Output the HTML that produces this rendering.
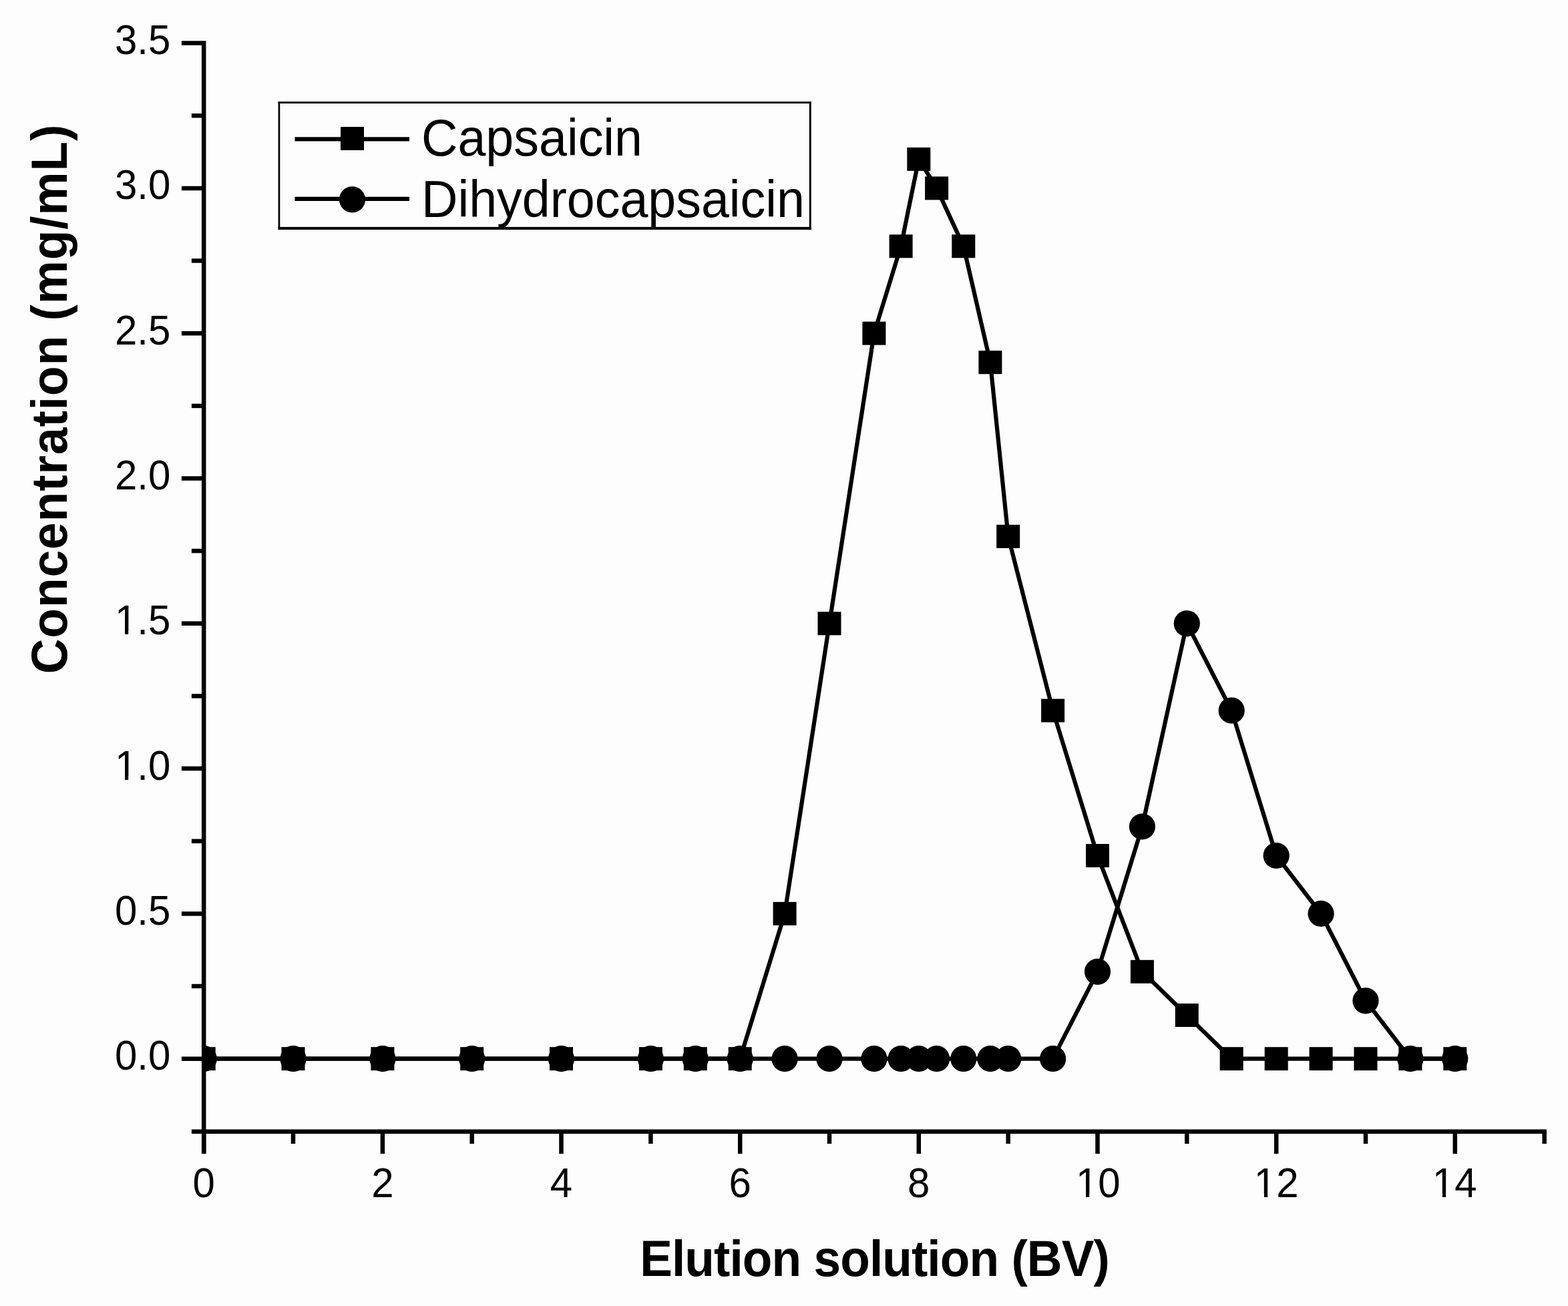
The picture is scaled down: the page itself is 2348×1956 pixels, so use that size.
<!DOCTYPE html>
<html><head><meta charset="utf-8"><title>Elution curve</title>
<style>html,body{margin:0;padding:0;background:#fdfdfd;}svg{display:block;}</style>
</head><body>
<svg width="2348" height="1956" viewBox="0 0 2348 1956">
<rect width="2348" height="1956" fill="#fdfdfd"/>
<defs><clipPath id="pc"><rect x="305" y="0" width="2100" height="1694"/></clipPath></defs>
<g clip-path="url(#pc)">
<polyline points="305.2,1585.7 439.0,1585.7 572.9,1585.7 706.7,1585.7 840.5,1585.7 974.4,1585.7 1041.3,1585.7 1108.2,1585.7 1175.1,1368.4 1242.0,933.8 1308.9,499.2 1349.1,368.8 1375.8,238.4 1402.6,281.9 1442.8,368.8 1482.9,542.7 1509.7,803.4 1576.6,1064.2 1643.5,1281.5 1710.4,1455.3 1777.3,1520.5 1844.2,1585.7 1911.2,1585.7 1978.1,1585.7 2045.0,1585.7 2111.9,1585.7 2178.8,1585.7" fill="none" stroke="#000" stroke-width="6.2" stroke-linejoin="round"/>
<polyline points="305.2,1585.7 439.0,1585.7 572.9,1585.7 706.7,1585.7 840.5,1585.7 974.4,1585.7 1041.3,1585.7 1108.2,1585.7 1175.1,1585.7 1242.0,1585.7 1308.9,1585.7 1349.1,1585.7 1375.8,1585.7 1402.6,1585.7 1442.8,1585.7 1482.9,1585.7 1509.7,1585.7 1576.6,1585.7 1643.5,1455.3 1710.4,1238.0 1777.3,933.8 1844.2,1064.2 1911.2,1281.5 1978.1,1368.4 2045.0,1498.8 2111.9,1585.7 2178.8,1585.7" fill="none" stroke="#000" stroke-width="6.2" stroke-linejoin="round"/>
<rect x="287.7" y="1568.2" width="35" height="35"/>
<rect x="421.5" y="1568.2" width="35" height="35"/>
<rect x="555.4" y="1568.2" width="35" height="35"/>
<rect x="689.2" y="1568.2" width="35" height="35"/>
<rect x="823.0" y="1568.2" width="35" height="35"/>
<rect x="956.9" y="1568.2" width="35" height="35"/>
<rect x="1023.8" y="1568.2" width="35" height="35"/>
<rect x="1090.7" y="1568.2" width="35" height="35"/>
<rect x="1157.6" y="1350.9" width="35" height="35"/>
<rect x="1224.5" y="916.3" width="35" height="35"/>
<rect x="1291.4" y="481.7" width="35" height="35"/>
<rect x="1331.6" y="351.3" width="35" height="35"/>
<rect x="1358.3" y="220.9" width="35" height="35"/>
<rect x="1385.1" y="264.4" width="35" height="35"/>
<rect x="1425.3" y="351.3" width="35" height="35"/>
<rect x="1465.4" y="525.2" width="35" height="35"/>
<rect x="1492.2" y="785.9" width="35" height="35"/>
<rect x="1559.1" y="1046.7" width="35" height="35"/>
<rect x="1626.0" y="1264.0" width="35" height="35"/>
<rect x="1692.9" y="1437.8" width="35" height="35"/>
<rect x="1759.8" y="1503.0" width="35" height="35"/>
<rect x="1826.7" y="1568.2" width="35" height="35"/>
<rect x="1893.7" y="1568.2" width="35" height="35"/>
<rect x="1960.6" y="1568.2" width="35" height="35"/>
<rect x="2027.5" y="1568.2" width="35" height="35"/>
<rect x="2094.4" y="1568.2" width="35" height="35"/>
<rect x="2161.3" y="1568.2" width="35" height="35"/>
<circle cx="305.2" cy="1585.7" r="19.6"/>
<circle cx="439.0" cy="1585.7" r="19.6"/>
<circle cx="572.9" cy="1585.7" r="19.6"/>
<circle cx="706.7" cy="1585.7" r="19.6"/>
<circle cx="840.5" cy="1585.7" r="19.6"/>
<circle cx="974.4" cy="1585.7" r="19.6"/>
<circle cx="1041.3" cy="1585.7" r="19.6"/>
<circle cx="1108.2" cy="1585.7" r="19.6"/>
<circle cx="1175.1" cy="1585.7" r="19.6"/>
<circle cx="1242.0" cy="1585.7" r="19.6"/>
<circle cx="1308.9" cy="1585.7" r="19.6"/>
<circle cx="1349.1" cy="1585.7" r="19.6"/>
<circle cx="1375.8" cy="1585.7" r="19.6"/>
<circle cx="1402.6" cy="1585.7" r="19.6"/>
<circle cx="1442.8" cy="1585.7" r="19.6"/>
<circle cx="1482.9" cy="1585.7" r="19.6"/>
<circle cx="1509.7" cy="1585.7" r="19.6"/>
<circle cx="1576.6" cy="1585.7" r="19.6"/>
<circle cx="1643.5" cy="1455.3" r="19.6"/>
<circle cx="1710.4" cy="1238.0" r="19.6"/>
<circle cx="1777.3" cy="933.8" r="19.6"/>
<circle cx="1844.2" cy="1064.2" r="19.6"/>
<circle cx="1911.2" cy="1281.5" r="19.6"/>
<circle cx="1978.1" cy="1368.4" r="19.6"/>
<circle cx="2045.0" cy="1498.8" r="19.6"/>
<circle cx="2111.9" cy="1585.7" r="19.6"/>
<circle cx="2178.8" cy="1585.7" r="19.6"/>
</g>
<g stroke="#000" stroke-width="6.5" fill="none">
<line x1="305.2" y1="61.3" x2="305.2" y2="1728.0"/>
<line x1="286.9" y1="1694.7" x2="2315.9" y2="1694.7"/>
<line x1="271.9" y1="1585.7" x2="305.2" y2="1585.7"/>
<line x1="286.9" y1="1477.0" x2="305.2" y2="1477.0"/>
<line x1="271.9" y1="1368.4" x2="305.2" y2="1368.4"/>
<line x1="286.9" y1="1259.8" x2="305.2" y2="1259.8"/>
<line x1="271.9" y1="1151.1" x2="305.2" y2="1151.1"/>
<line x1="286.9" y1="1042.5" x2="305.2" y2="1042.5"/>
<line x1="271.9" y1="933.8" x2="305.2" y2="933.8"/>
<line x1="286.9" y1="825.1" x2="305.2" y2="825.1"/>
<line x1="271.9" y1="716.5" x2="305.2" y2="716.5"/>
<line x1="286.9" y1="607.9" x2="305.2" y2="607.9"/>
<line x1="271.9" y1="499.2" x2="305.2" y2="499.2"/>
<line x1="286.9" y1="390.5" x2="305.2" y2="390.5"/>
<line x1="271.9" y1="281.9" x2="305.2" y2="281.9"/>
<line x1="286.9" y1="173.2" x2="305.2" y2="173.2"/>
<line x1="271.9" y1="64.6" x2="305.2" y2="64.6"/>
<line x1="305.2" y1="1694.7" x2="305.2" y2="1728.0"/>
<line x1="439.0" y1="1694.7" x2="439.0" y2="1713.0"/>
<line x1="572.9" y1="1694.7" x2="572.9" y2="1728.0"/>
<line x1="706.7" y1="1694.7" x2="706.7" y2="1713.0"/>
<line x1="840.5" y1="1694.7" x2="840.5" y2="1728.0"/>
<line x1="974.4" y1="1694.7" x2="974.4" y2="1713.0"/>
<line x1="1108.2" y1="1694.7" x2="1108.2" y2="1728.0"/>
<line x1="1242.0" y1="1694.7" x2="1242.0" y2="1713.0"/>
<line x1="1375.8" y1="1694.7" x2="1375.8" y2="1728.0"/>
<line x1="1509.7" y1="1694.7" x2="1509.7" y2="1713.0"/>
<line x1="1643.5" y1="1694.7" x2="1643.5" y2="1728.0"/>
<line x1="1777.3" y1="1694.7" x2="1777.3" y2="1713.0"/>
<line x1="1911.2" y1="1694.7" x2="1911.2" y2="1728.0"/>
<line x1="2045.0" y1="1694.7" x2="2045.0" y2="1713.0"/>
<line x1="2178.8" y1="1694.7" x2="2178.8" y2="1728.0"/>
<line x1="2312.7" y1="1694.7" x2="2312.7" y2="1713.0"/>
</g>
<g font-family="'Liberation Sans', Arial, sans-serif" font-size="60" fill="#000">
<g transform="translate(255.3,1602.2) scale(1,1.055)"><text text-anchor="end">0.0</text></g>
<g transform="translate(255.3,1384.9) scale(1,1.055)"><text text-anchor="end">0.5</text></g>
<g transform="translate(255.3,1167.6) scale(1,1.055)"><text text-anchor="end">1.0</text><rect x="-80.01" y="-5.3" width="11.70" height="6.5" fill="#fdfdfd"/><rect x="-63.11" y="-5.3" width="11.30" height="6.5" fill="#fdfdfd"/></g>
<g transform="translate(255.3,950.3) scale(1,1.055)"><text text-anchor="end">1.5</text><rect x="-80.01" y="-5.3" width="11.70" height="6.5" fill="#fdfdfd"/><rect x="-63.11" y="-5.3" width="11.30" height="6.5" fill="#fdfdfd"/></g>
<g transform="translate(255.3,733.0) scale(1,1.055)"><text text-anchor="end">2.0</text></g>
<g transform="translate(255.3,515.7) scale(1,1.055)"><text text-anchor="end">2.5</text></g>
<g transform="translate(255.3,298.4) scale(1,1.055)"><text text-anchor="end">3.0</text></g>
<g transform="translate(255.3,81.1) scale(1,1.055)"><text text-anchor="end">3.5</text></g>
<g transform="translate(305.2,1792.8) scale(1,1.055)"><text text-anchor="middle">0</text></g>
<g transform="translate(572.9,1792.8) scale(1,1.055)"><text text-anchor="middle">2</text></g>
<g transform="translate(840.5,1792.8) scale(1,1.055)"><text text-anchor="middle">4</text></g>
<g transform="translate(1108.2,1792.8) scale(1,1.055)"><text text-anchor="middle">6</text></g>
<g transform="translate(1375.8,1792.8) scale(1,1.055)"><text text-anchor="middle">8</text></g>
<g transform="translate(1644.3,1792.8) scale(1,1.055)"><text text-anchor="middle">10</text><rect x="-29.96" y="-5.3" width="11.70" height="6.5" fill="#fdfdfd"/><rect x="-13.06" y="-5.3" width="11.30" height="6.5" fill="#fdfdfd"/></g>
<g transform="translate(1911.2,1792.8) scale(1,1.055)"><text text-anchor="middle">12</text><rect x="-29.96" y="-5.3" width="11.70" height="6.5" fill="#fdfdfd"/><rect x="-13.06" y="-5.3" width="11.30" height="6.5" fill="#fdfdfd"/></g>
<g transform="translate(2178.2,1792.8) scale(1,1.055)"><text text-anchor="middle">14</text><rect x="-29.96" y="-5.3" width="11.70" height="6.5" fill="#fdfdfd"/><rect x="-13.06" y="-5.3" width="11.30" height="6.5" fill="#fdfdfd"/></g>
</g>
<text transform="translate(1309.5,1911.2) scale(1,1.05)" font-family="'Liberation Sans', Arial, sans-serif" font-weight="bold" font-size="73" letter-spacing="-0.9" text-anchor="middle">Elution solution (BV)</text>
<text transform="translate(99.5,597.5) rotate(-90) scale(1,1.05)" font-family="'Liberation Sans', Arial, sans-serif" font-weight="bold" font-size="73" letter-spacing="1.0" text-anchor="middle">Concentration (mg/mL)</text>
<rect x="416.6" y="152.1" width="798.1" height="2.9"/>
<rect x="416.6" y="339.9" width="798.1" height="4.1"/>
<rect x="416.6" y="152.1" width="2.7" height="192"/>
<rect x="1211.8" y="152.1" width="2.9" height="192"/>
<line x1="441.5" y1="208.4" x2="613" y2="208.4" stroke="#000" stroke-width="6.2"/>
<rect x="510.0" y="190.0" width="35" height="35"/>
<line x1="441.5" y1="297.9" x2="613" y2="297.9" stroke="#000" stroke-width="6.2"/>
<circle cx="527.5" cy="298.8" r="19.6"/>
<g font-family="'Liberation Sans', Arial, sans-serif" font-size="75.4" fill="#000">
<text transform="translate(631,232.8) scale(1,1.03)">Capsaicin</text>
<text transform="translate(631,324.9) scale(1,1.03)">Dihydrocapsaicin</text>
</g>
</svg>
</body></html>
